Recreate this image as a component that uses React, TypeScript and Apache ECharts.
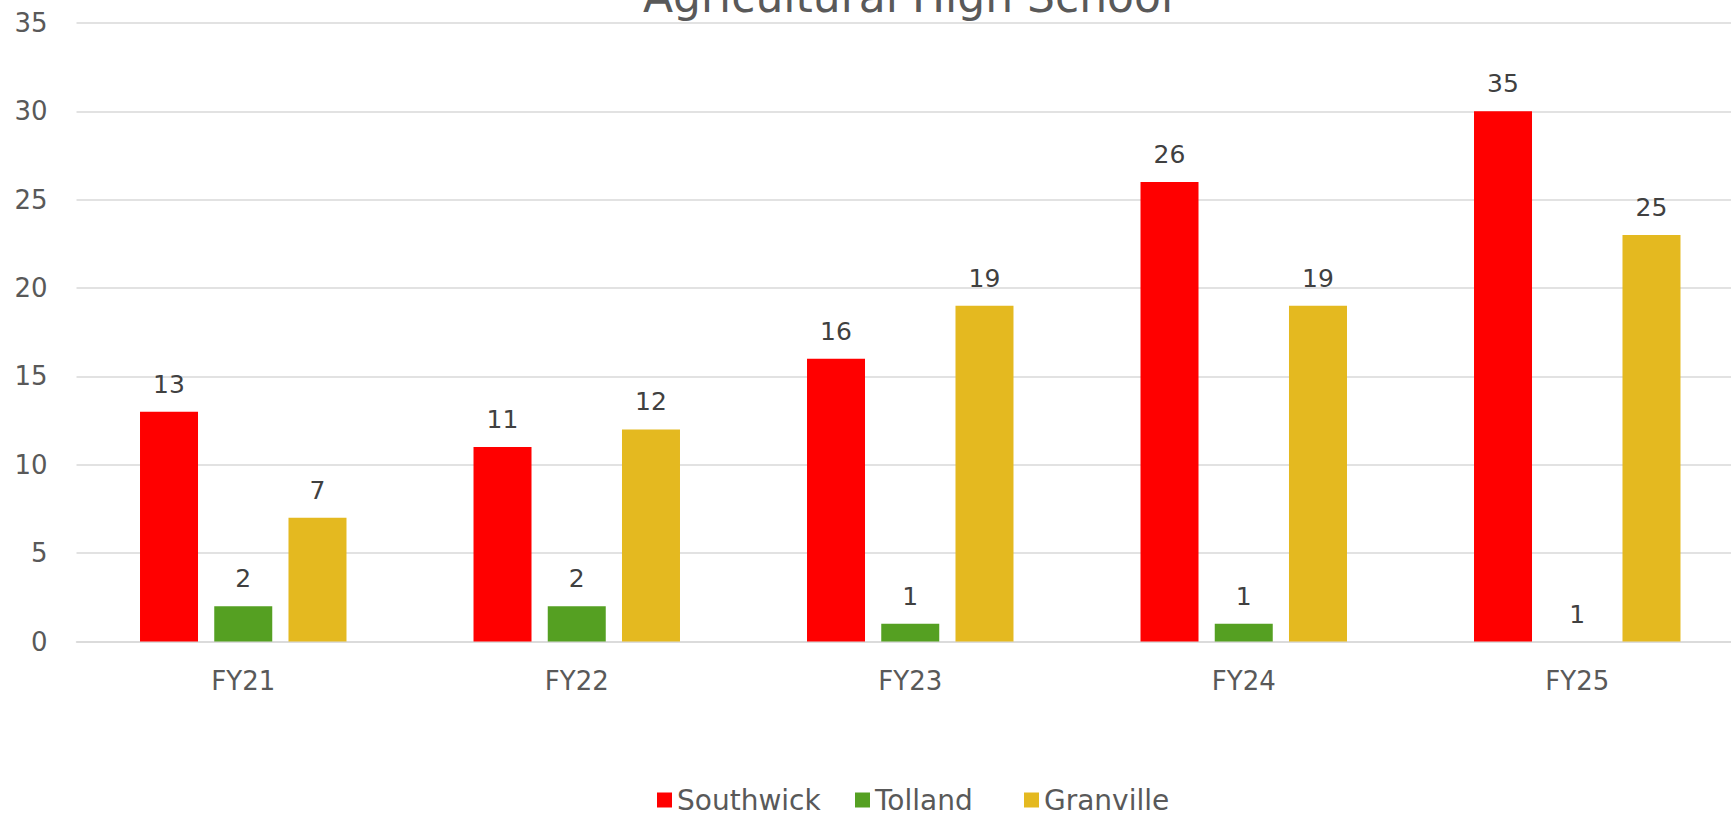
import React, { useEffect, useRef } from "react";
import * as echarts from "echarts";

const categories = ["FY21", "FY22", "FY23", "FY24", "FY25"];
const seriesNames = ["Southwick", "Tolland", "Granville"];
const southwickBars = [13, 11, 16, 26, 30];
const southwickLabels = ["13", "11", "16", "26", "35"];
const tollandBars = [2, 2, 1, 1, 0];
const tollandLabels = ["2", "2", "1", "1", "1"];
const granvilleBars = [7, 12, 19, 19, 23];
const granvilleLabels = ["7", "12", "19", "19", "25"];
const colors = ["#FF0000", "#55A022", "#E4B920"];
const titleText = "Agricultural High School";

const FONT = "DejaVu Sans";
const legendLefts = [657, 855, 1024];

export default function App() {
  const ref = useRef<HTMLDivElement>(null);
  useEffect(() => {
    document.body.style.margin = "0";
    if (!ref.current) return;
    const chart = echarts.init(ref.current, undefined, { renderer: "svg" });
    const bars = [southwickBars, tollandBars, granvilleBars];
    const labels = [southwickLabels, tollandLabels, granvilleLabels];
    chart.setOption({
      animation: false,
      backgroundColor: "#FFFFFF",
      textStyle: { fontFamily: FONT },
      graphic: [
        {
          type: "text",
          x: 908,
          y: -4,
          style: {
            text: titleText,
            fontFamily: FONT,
            fontSize: 44,
            fill: "#595959",
            align: "center",
            verticalAlign: "middle",
          },
        },
      ],
      legend: seriesNames.map((name, i) => ({
        data: [name],
        left: legendLefts[i],
        top: 786,
        padding: 0,
        itemWidth: 15,
        itemHeight: 15,
        icon: "rect",
        textStyle: { fontFamily: FONT, fontSize: 28, color: "#595959" },
      })),
      grid: { left: 76.5, top: 23, width: 1667.5, height: 618.5, containLabel: false },
      xAxis: {
        type: "category",
        data: categories,
        axisLine: { show: true, lineStyle: { color: "#D9D9D9", width: 1.5 } },
        axisTick: { show: false },
        axisLabel: { fontFamily: FONT, fontSize: 26, color: "#595959", margin: 26 },
      },
      yAxis: {
        type: "value",
        min: 0,
        max: 35,
        interval: 5,
        axisLine: { show: false },
        axisTick: { show: false },
        splitLine: { lineStyle: { color: "#D9D9D9", width: 1.5 } },
        axisLabel: { fontFamily: FONT, fontSize: 26, color: "#595959", margin: 29 },
      },
      series: seriesNames.map((name, i) => ({
        name,
        type: "bar",
        barWidth: 58,
        barGap: "28%",
        itemStyle: { color: colors[i] },
        data: bars[i].map((v) => v),
        label: {
          show: true,
          position: "top",
          distance: 15,
          fontFamily: FONT,
          fontSize: 25,
          color: "#404040",
          formatter: (p: any) => labels[i][p.dataIndex],
        },
      })),
    });
    return () => chart.dispose();
  }, []);
  return (
    <div style={{ width: 1731, height: 816, overflow: "hidden", position: "relative" }}>
      <div ref={ref} style={{ width: 1770, height: 816 }} />
    </div>
  );
}
